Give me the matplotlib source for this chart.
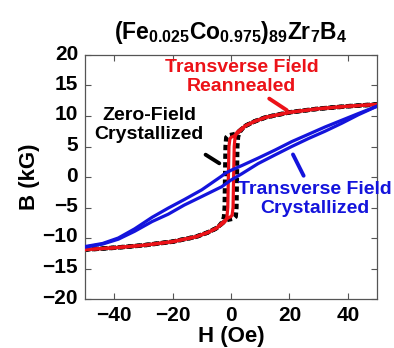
import matplotlib
matplotlib.use("Agg")
import matplotlib.pyplot as plt
from matplotlib.transforms import ScaledTranslation

# Loop data: H in Oe, B in kG
# zero-field crystallized (black dashed)
blk_down_H = [50, 40, 30, 20, 12, 8, 5, 4, 3, 2, 1, 0, -1, -1.6, -1.85, -2.0, -2.15, -2.4, -3, -4, -5, -8, -12, -20, -30, -40, -50]
blk_down_B = [11.9, 11.6, 11.2, 10.6, 9.8, 9.1, 8.4, 8.0, 7.6, 7.2, 7.0, 6.9, 6.8, 6.5, 5.0, 0.0, -5.0, -6.6, -7.4, -8.0, -8.4, -9.1, -9.8, -10.6, -11.2, -11.6, -11.9]
blk_up_H = [-50, -40, -30, -20, -12, -8, -5, -4, -3, -2, -1, 0, 1, 1.6, 1.85, 2.0, 2.15, 2.4, 3, 4, 5, 8, 12, 20, 30, 40, 50]
blk_up_B = [-11.9, -11.6, -11.2, -10.6, -9.8, -9.1, -8.4, -8.0, -7.6, -7.2, -7.0, -6.9, -6.8, -6.5, -5.0, 0.0, 5.0, 6.6, 7.4, 8.0, 8.4, 9.1, 9.8, 10.6, 11.2, 11.6, 11.9]

# transverse field reannealed (red)
red_down_H = [50, 40, 30, 20, 12, 8, 5, 3.5, 2, 1, 0, -0.4, -0.7, -0.9, -1.1, -1.4, -2, -3.5, -5, -8, -12, -20, -30, -40, -50]
red_down_B = [11.9, 11.6, 11.2, 10.6, 9.8, 9.1, 8.4, 7.7, 7.1, 6.7, 6.5, 6.2, 5.0, 0.0, -5.0, -6.6, -7.3, -7.9, -8.4, -9.1, -9.8, -10.6, -11.2, -11.6, -11.9]
red_up_H = [-50, -40, -30, -20, -12, -8, -5, -3.5, -2, -1, 0, 0.4, 0.7, 0.9, 1.1, 1.4, 2, 3.5, 5, 8, 12, 20, 30, 40, 50]
red_up_B = [-11.9, -11.6, -11.2, -10.6, -9.8, -9.1, -8.4, -7.7, -7.1, -6.7, -6.5, -6.2, -5.0, 0.0, 5.0, 6.6, 7.3, 7.9, 8.4, 9.1, 9.8, 10.6, 11.2, 11.6, 11.9]

# transverse field crystallized (blue)
blu_down_H = [50, 43.6, 37.9, 32.2, 26.5, 20.8, 15, 9.3, 3.6, 0, -2, -3.2, -10, -16, -21.5, -27, -33, -38.6, -44, -50]
blu_down_B = [11.6, 10.4, 9.3, 8.2, 7.0, 5.8, 4.4, 3.1, 1.85, 1.1, 0.6, 0.15, -2.1, -3.7, -5.1, -6.6, -8.5, -10.0, -10.9, -11.4]
blu_up_H = [-50, -44, -38.6, -33, -27, -21.5, -16, -10, -3.2, 0, 3.6, 9.3, 15, 20.8, 26.5, 32.2, 37.9, 43.6, 50]
blu_up_B = [-11.5, -11.0, -10.2, -8.9, -7.3, -6.1, -4.6, -3.2, -1.6, -0.5, 0.5, 2.2, 3.6, 5.0, 6.3, 7.5, 8.8, 10.2, 11.6]

title = r'(Fe$_{0.025}$Co$_{0.975}$)$_{89}$Zr$_{7}$B$_{4}$'

plt.rcParams['font.family'] = ['Liberation Sans', 'DejaVu Sans']
plt.rcParams['font.weight'] = 'bold'
plt.rcParams['mathtext.fontset'] = 'custom'
plt.rcParams['mathtext.rm'] = 'Liberation Sans:bold'
plt.rcParams['mathtext.it'] = 'Liberation Sans:bold'
plt.rcParams['mathtext.bf'] = 'Liberation Sans:bold'
plt.rcParams['mathtext.default'] = 'rm'

RED = '#ec1218'
BLUE = '#1414dc'

fig = plt.figure(figsize=(3.94, 3.48), dpi=100)
ax = fig.add_axes([85/394, 49/348, 292/394, 244/348])

# black dashed drawn first, red over it, blue on top
for h, b in [(blk_down_H, blk_down_B), (blk_up_H, blk_up_B)]:
    ax.plot(h, b, color='black', lw=3.2, dashes=(1.2, 0.75), zorder=2)
for h, b in [(red_down_H, red_down_B), (red_up_H, red_up_B)]:
    ax.plot(h, b, color=RED, lw=2.3, zorder=3)
for h, b in [(blu_down_H, blu_down_B), (blu_up_H, blu_up_B)]:
    ax.plot(h, b, color=BLUE, lw=2.3, zorder=4)

ax.set_xlim(-50, 50)
ax.set_ylim(-20, 20)
ax.set_xticks([-40, -20, 0, 20, 40])
ax.set_yticks(range(-20, 21, 5))
ax.tick_params(direction='in', length=4, width=0.8, top=True, right=True,
               labelsize=15, pad=5, color='#555555')
for lab in ax.get_yticklabels():
    lab.set_transform(lab.get_transform() + ScaledTranslation(0, 3/100, fig.dpi_scale_trans))
for s in ax.spines.values():
    s.set_color('#555555')
    s.set_linewidth(0.9)

ax.set_xlabel('H (Oe)', fontsize=16, fontweight='bold', labelpad=1)
ax.set_ylabel('B (kG)', fontsize=16, fontweight='bold', labelpad=2)
ax.text(0.5, 1.065, title, transform=ax.transAxes, ha='center', va='baseline',
        fontsize=16.5)

# labels with pointer lines
ax.text(3.7, 16.4, 'Transverse Field\nReannealed', color=RED, fontsize=14,
        ha='center', va='center', linespacing=1.1)
ax.annotate('', xy=(19.9, 10.7), xytext=(12.3, 13.1),
            arrowprops=dict(arrowstyle='-', color=RED, lw=2.8))
ax.text(-28.1, 8.5, 'Zero-Field\nCrystallized', color='black', fontsize=14,
        ha='center', va='center', linespacing=1.1)
ax.annotate('', xy=(-3.2, 2.0), xytext=(-9.5, 3.9),
            arrowprops=dict(arrowstyle='-', color='black', lw=2.8))
ax.text(28.8, -3.6, 'Transverse Field\nCrystallized', color=BLUE, fontsize=14,
        ha='center', va='center', linespacing=1.1)
ax.annotate('', xy=(25.3, -0.2), xytext=(20.8, 4.1),
            arrowprops=dict(arrowstyle='-', color=BLUE, lw=2.8))

fig.savefig('out.png', dpi=100)
